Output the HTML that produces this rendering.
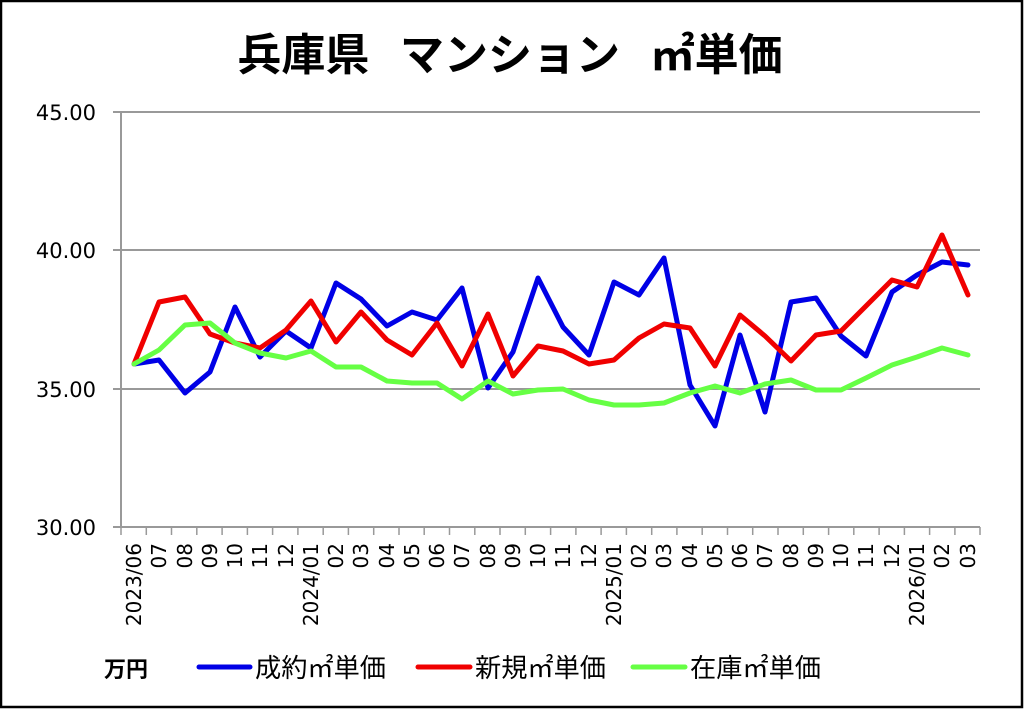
<!DOCTYPE html>
<html><head><meta charset="utf-8"><style>
html,body{margin:0;padding:0;background:#fff}
svg{display:block}
text{font-family:"DejaVu Sans","Noto Sans CJK JP",sans-serif}
</style></head><body>
<svg width="1024" height="709" viewBox="0 0 1024 709" xmlns="http://www.w3.org/2000/svg">
<rect x="1" y="1" width="1021" height="706" fill="#fff" stroke="#000" stroke-width="2.5"/>
<text x="510" y="70" text-anchor="middle" font-size="44" font-weight="bold" font-family="Noto Sans CJK JP,sans-serif" xml:space="preserve">兵庫県  マンション  ㎡単価</text>
<g stroke="#999" stroke-width="2">
<line x1="113" y1="112" x2="980" y2="112"/>
<line x1="113" y1="250" x2="980" y2="250"/>
<line x1="113" y1="389" x2="980" y2="389"/>
<line x1="113" y1="527" x2="980" y2="527"/>
<line x1="121" y1="112" x2="121" y2="527"/>
</g>
<g stroke="#999" stroke-width="1.5">
<line x1="121" y1="527" x2="121" y2="535"/><line x1="146.3" y1="527" x2="146.3" y2="535"/><line x1="171.5" y1="527" x2="171.5" y2="535"/><line x1="196.8" y1="527" x2="196.8" y2="535"/><line x1="222.1" y1="527" x2="222.1" y2="535"/><line x1="247.4" y1="527" x2="247.4" y2="535"/><line x1="272.6" y1="527" x2="272.6" y2="535"/><line x1="297.9" y1="527" x2="297.9" y2="535"/><line x1="323.2" y1="527" x2="323.2" y2="535"/><line x1="348.4" y1="527" x2="348.4" y2="535"/><line x1="373.7" y1="527" x2="373.7" y2="535"/><line x1="399" y1="527" x2="399" y2="535"/><line x1="424.2" y1="527" x2="424.2" y2="535"/><line x1="449.5" y1="527" x2="449.5" y2="535"/><line x1="474.8" y1="527" x2="474.8" y2="535"/><line x1="500" y1="527" x2="500" y2="535"/><line x1="525.3" y1="527" x2="525.3" y2="535"/><line x1="550.6" y1="527" x2="550.6" y2="535"/><line x1="575.9" y1="527" x2="575.9" y2="535"/><line x1="601.1" y1="527" x2="601.1" y2="535"/><line x1="626.4" y1="527" x2="626.4" y2="535"/><line x1="651.7" y1="527" x2="651.7" y2="535"/><line x1="676.9" y1="527" x2="676.9" y2="535"/><line x1="702.2" y1="527" x2="702.2" y2="535"/><line x1="727.5" y1="527" x2="727.5" y2="535"/><line x1="752.7" y1="527" x2="752.7" y2="535"/><line x1="778" y1="527" x2="778" y2="535"/><line x1="803.3" y1="527" x2="803.3" y2="535"/><line x1="828.6" y1="527" x2="828.6" y2="535"/><line x1="853.8" y1="527" x2="853.8" y2="535"/><line x1="879.1" y1="527" x2="879.1" y2="535"/><line x1="904.4" y1="527" x2="904.4" y2="535"/><line x1="929.6" y1="527" x2="929.6" y2="535"/><line x1="954.9" y1="527" x2="954.9" y2="535"/><line x1="980" y1="527" x2="980" y2="535"/>
</g>
<g font-size="21" text-anchor="end" fill="#000">
<text x="96" y="120">45.00</text>
<text x="96" y="258">40.00</text>
<text x="96" y="397">35.00</text>
<text x="96" y="535">30.00</text>
</g>
<g font-size="20" text-anchor="end" fill="#000">
<text transform="translate(141,543) rotate(-90)">2023/06</text>
<text transform="translate(166,543) rotate(-90)">07</text>
<text transform="translate(192,543) rotate(-90)">08</text>
<text transform="translate(217,543) rotate(-90)">09</text>
<text transform="translate(242,543) rotate(-90)">10</text>
<text transform="translate(267,543) rotate(-90)">11</text>
<text transform="translate(293,543) rotate(-90)">12</text>
<text transform="translate(318,543) rotate(-90)">2024/01</text>
<text transform="translate(343,543) rotate(-90)">02</text>
<text transform="translate(368,543) rotate(-90)">03</text>
<text transform="translate(394,543) rotate(-90)">04</text>
<text transform="translate(419,543) rotate(-90)">05</text>
<text transform="translate(444,543) rotate(-90)">06</text>
<text transform="translate(469,543) rotate(-90)">07</text>
<text transform="translate(495,543) rotate(-90)">08</text>
<text transform="translate(520,543) rotate(-90)">09</text>
<text transform="translate(545,543) rotate(-90)">10</text>
<text transform="translate(570,543) rotate(-90)">11</text>
<text transform="translate(596,543) rotate(-90)">12</text>
<text transform="translate(621,543) rotate(-90)">2025/01</text>
<text transform="translate(646,543) rotate(-90)">02</text>
<text transform="translate(671,543) rotate(-90)">03</text>
<text transform="translate(697,543) rotate(-90)">04</text>
<text transform="translate(722,543) rotate(-90)">05</text>
<text transform="translate(747,543) rotate(-90)">06</text>
<text transform="translate(772,543) rotate(-90)">07</text>
<text transform="translate(798,543) rotate(-90)">08</text>
<text transform="translate(823,543) rotate(-90)">09</text>
<text transform="translate(848,543) rotate(-90)">10</text>
<text transform="translate(873,543) rotate(-90)">11</text>
<text transform="translate(899,543) rotate(-90)">12</text>
<text transform="translate(924,543) rotate(-90)">2026/01</text>
<text transform="translate(949,543) rotate(-90)">02</text>
<text transform="translate(975,543) rotate(-90)">03</text>
</g>
<g fill="none" stroke-width="5" stroke-linejoin="round" stroke-linecap="round">
<polyline stroke="#0000e6" points="134,364 159,360 185,393 210,372 235,307 260,357 286,331 311,348 336,283 361,299 387,326 412,312 437,320 462,288 488,388 513,352 538,278 563,327 589,355 614,282 639,295 664,258 690,385 715,426 740,335 765,412 791,302 816,298 841,336 866,356 892,292 917,275 942,262 968,265"/>
<polyline stroke="#f00000" points="134,364 159,302 185,297 210,334 235,343 260,348 286,330 311,301 336,342 361,312 387,340 412,355 437,323 462,366 488,314 513,376 538,346 563,351 589,364 614,360 639,338 664,324 690,328 715,366 740,315 765,336 791,361 816,335 841,331 866,306 892,280 917,287 942,235 968,295"/>
<polyline stroke="#66ff44" points="134,364 159,350 185,325 210,323 235,343 260,353 286,358 311,351 336,367 361,367 387,381 412,383 437,383 462,399 488,381 513,394 538,390 563,389 589,400 614,405 639,405 664,403 690,393 715,386 740,393 765,384 791,380 816,390 841,390 866,378 892,365 917,357 942,348 968,355"/>
</g>
<text x="104" y="677" font-size="22" font-weight="bold" font-family="Noto Sans CJK JP,sans-serif">万円</text>
<g stroke-width="5" stroke-linecap="round">
<line x1="199" y1="667" x2="250" y2="667" stroke="#0000e6"/>
<line x1="418" y1="667" x2="470" y2="667" stroke="#f00000"/>
<line x1="633" y1="667" x2="685" y2="667" stroke="#66ff44"/>
</g>
<g font-size="26" font-family="Noto Sans CJK JP,sans-serif">
<text x="255" y="677" textLength="131" lengthAdjust="spacingAndGlyphs">成約㎡単価</text>
<text x="475" y="677" textLength="131" lengthAdjust="spacingAndGlyphs">新規㎡単価</text>
<text x="690" y="677" textLength="131" lengthAdjust="spacingAndGlyphs">在庫㎡単価</text>
</g>
</svg>
</body></html>
